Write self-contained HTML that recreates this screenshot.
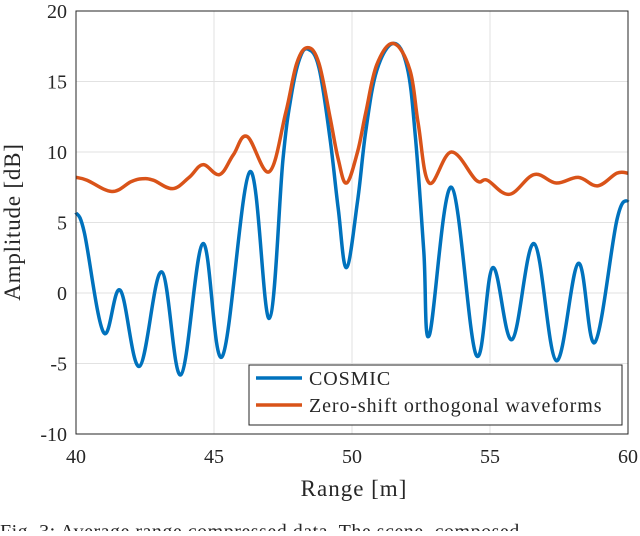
<!DOCTYPE html>
<html><head><meta charset="utf-8"><style>
body{margin:0;background:#fff;width:640px;height:531px;overflow:hidden}
svg text{font-family:"Liberation Serif",serif;fill:#262626}
</style></head><body>
<svg width="640" height="531">
<g id="grid"></g>
<g id="ticks"></g>
<g id="series"></g>
<rect x="76" y="11" width="552" height="423" fill="none" stroke="#262626" stroke-width="1"/>
<text x="20" y="222" font-size="23" letter-spacing="0.8" text-anchor="middle" transform="rotate(-90 20 222)">Amplitude [dB]</text>
<text x="354" y="496" font-size="23" letter-spacing="1" text-anchor="middle">Range [m]</text>
<g>
<rect x="249" y="365" width="373" height="60" fill="#fff" stroke="#262626" stroke-width="1"/>
<line x1="256" y1="378" x2="302" y2="378" stroke="#0072BD" stroke-width="3.5"/>
<text x="309" y="385" font-size="20" letter-spacing="0.9">COSMIC</text>
<line x1="256" y1="405" x2="302" y2="405" stroke="#D95319" stroke-width="3.5"/>
<text x="309" y="412" font-size="20" letter-spacing="0.9">Zero-shift orthogonal waveforms</text>
</g>
<text x="0" y="538" font-size="20" letter-spacing="0.5">Fig. 3: Average range compressed data. The scene, composed</text>
</svg>
<script>
const xTicks=[40,45,50,55,60];
const yTicks=[-10,-5,0,5,10,15,20];
const cosmicX=[40,40.3,41.0,41.6,42.3,43.1,43.8,44.6,45.3,46.3,47.0,47.5,47.8,48.1,48.4,48.8,49.2,49.5,49.8,50.2,50.5,50.9,51.5,52.0,52.3,52.6,52.8,53.6,54.5,55.1,55.8,56.6,57.4,58.2,58.8,59.6,60];
const cosmicY=[5.7,4.3,-2.8,0.2,-5.2,1.5,-5.8,3.5,-4.5,8.6,-1.8,9.5,14,16.6,17.3,16,11,6,1.8,6.5,11.5,15.8,17.7,16,11,3,-3.0,7.5,-4.4,1.8,-3.3,3.5,-4.8,2.1,-3.5,5.2,6.6];
const orthoX=[40,40.4,41.3,42.0,42.4,42.8,43.5,44.1,44.6,45.2,45.7,46.2,47.0,47.6,48.0,48.4,48.8,49.2,49.5,49.8,50.2,50.5,50.9,51.5,52.1,52.4,52.8,53.6,54.5,54.9,55.7,56.6,57.4,58.2,58.9,59.6,60];
const orthoY=[8.2,8.0,7.2,7.9,8.1,8.0,7.4,8.2,9.1,8.4,9.8,11.1,8.6,12.8,16.3,17.4,16.3,12.5,9.5,7.8,10,12.8,16.2,17.7,15.8,12,7.8,10.0,8.0,8.0,7.0,8.4,7.8,8.2,7.6,8.5,8.5];
const X=v=>76+(v-40)*27.6;
const Y=v=>293-v*14.1;
const NS="http://www.w3.org/2000/svg";
const grid=document.getElementById('grid'),ticks=document.getElementById('ticks'),series=document.getElementById('series');
function mk(tag,attrs,parent){const e=document.createElementNS(NS,tag);for(const k in attrs)e.setAttribute(k,attrs[k]);parent.appendChild(e);return e;}
xTicks.forEach(v=>{
 const g=mk('line',{x1:X(v),x2:X(v),y1:11,y2:434,stroke:'#e2e2e2','stroke-width':1},grid);
 
 
 const t=mk('text',{x:X(v),y:463,'font-size':20,'text-anchor':'middle'},ticks);
 t.textContent=v;
 
 
});
yTicks.forEach(v=>{
 const g=mk('line',{x1:76,x2:628,y1:Y(v),y2:Y(v),stroke:'#e2e2e2','stroke-width':1},grid);
 
 
 const t=mk('text',{x:67,y:Y(v)+7,'font-size':20,'text-anchor':'end'},ticks);
 t.textContent=v;
 
 
});
function path(xs,ys){
 const p=xs.map((x,i)=>[X(x),Y(ys[i])]);
 let d='M'+p[0][0]+','+p[0][1];
 for(let i=0;i<p.length-1;i++){
  const p0=p[Math.max(0,i-1)],p1=p[i],p2=p[i+1],p3=p[Math.min(p.length-1,i+2)];
  const t=0.18;
  d+=' C'+(p1[0]+(p2[0]-p0[0])*t)+','+(p1[1]+(p2[1]-p0[1])*t)+' '+(p2[0]-(p3[0]-p1[0])*t)+','+(p2[1]-(p3[1]-p1[1])*t)+' '+p2[0]+','+p2[1];
 }
 return d;
}
const c=mk('path',{d:path(cosmicX,cosmicY),fill:'none',stroke:'#0072BD','stroke-width':3.5,'stroke-linejoin':'round'},series);


const o=mk('path',{d:path(orthoX,orthoY),fill:'none',stroke:'#D95319','stroke-width':3.5,'stroke-linejoin':'round'},series);


</script>
</body></html>
